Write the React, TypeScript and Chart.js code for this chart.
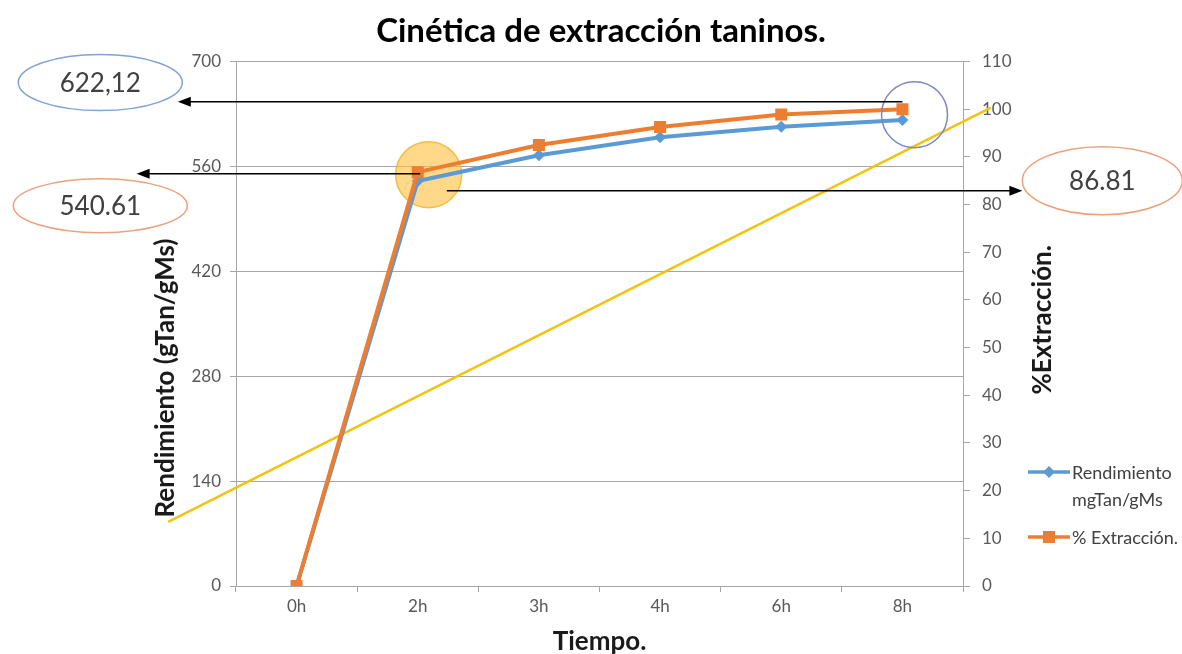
import React, { useEffect, useRef } from 'react';
import { Chart, registerables } from 'chart.js';

Chart.register(...registerables);

const categories = ['0h', '2h', '3h', '4h', '6h', '8h'];
const rendimiento = [0, 540.61, 575, 599, 613, 622.12];
const extraccion = [0, 86.81, 92.5, 96.3, 98.9, 100];
const leftAxis = { min: 0, max: 700, step: 140 };
const rightAxis = { min: 0, max: 110, step: 10 };
const seriesNames = ['Rendimiento mgTan/gMs', '% Extracción.'];
const calloutTexts = ['622,12', '540.61', '86.81'];

const FONT = 'Lato, "Open Sans", sans-serif';
const BLUE = '#5B9BD5';
const ORANGE = '#ED7D31';
const GRID = '#A6A6A6';
const TICK = '#595959';

const overlay = {
  id: 'overlay',
  beforeDatasetsDraw(chart: any) {
    const { ctx } = chart;
    const x = chart.scales.x;
    const y = chart.scales.y;
    const px = (i: number) => x.getPixelForValue(i);
    const py = (v: number) => y.getPixelForValue(v);
    ctx.save();
    // yellow straight line
    ctx.strokeStyle = '#F2C30F';
    ctx.lineWidth = 2.5;
    ctx.beginPath();
    ctx.moveTo(px(-1.06), py(85.5));
    ctx.lineTo(px(5.73), py(638.5));
    ctx.stroke();
    // orange highlight circle
    ctx.beginPath();
    ctx.arc(px(1.09), py(549), 33, 0, Math.PI * 2);
    ctx.fillStyle = 'rgba(255, 190, 60, 0.6)';
    ctx.fill();
    ctx.strokeStyle = 'rgba(245, 185, 50, 0.9)';
    ctx.lineWidth = 1.5;
    ctx.stroke();
    ctx.restore();
  },
  afterDatasetsDraw(chart: any) {
    const { ctx, chartArea } = chart;
    const x = chart.scales.x;
    const y = chart.scales.y;
    const px = (i: number) => x.getPixelForValue(i);
    const py = (v: number) => y.getPixelForValue(v);
    ctx.save();

    // blue circle
    ctx.beginPath();
    ctx.arc(px(5.1), py(629.2), 33, 0, Math.PI * 2);
    ctx.strokeStyle = '#7C86C8';
    ctx.lineWidth = 1.5;
    ctx.stroke();

    const arrow = (x1: number, x2: number, yy: number) => {
      ctx.strokeStyle = '#000';
      ctx.fillStyle = '#000';
      ctx.lineWidth = 1.5;
      const dir = x2 < x1 ? -1 : 1;
      ctx.beginPath();
      ctx.moveTo(x1, yy);
      ctx.lineTo(x2 - dir * 10, yy);
      ctx.stroke();
      ctx.beginPath();
      ctx.moveTo(x2, yy);
      ctx.lineTo(x2 - dir * 13, yy - 5);
      ctx.lineTo(x2 - dir * 13, yy + 5);
      ctx.closePath();
      ctx.fill();
    };
    arrow(px(5.0), px(-0.98), py(646.5));
    arrow(px(1.02), px(-1.32), py(550.4));
    arrow(px(1.24), px(5.99), py(527.7));

    const ellipse = (cx: number, cy: number, rx: number, ry: number, color: string, text: string) => {
      ctx.beginPath();
      ctx.ellipse(cx, cy, rx, ry, 0, 0, Math.PI * 2);
      ctx.fillStyle = '#fff';
      ctx.fill();
      ctx.strokeStyle = color;
      ctx.lineWidth = 1.5;
      ctx.stroke();
      ctx.fillStyle = '#404040';
      ctx.font = `26px ${FONT}`;
      ctx.textAlign = 'center';
      ctx.textBaseline = 'middle';
      ctx.fillText(text, cx, cy + 1);
    };
    ellipse(px(-1.62), py(672), 82, 28, '#7FA3D3', calloutTexts[0]);
    ellipse(px(-1.62), py(507.6), 87, 27, '#E9A27C', calloutTexts[1]);
    ellipse(px(6.65), py(541), 80, 34, '#E9A27C', calloutTexts[2]);

    // axis titles
    ctx.fillStyle = '#1a1a1a';
    ctx.font = `bold 26px ${FONT}`;
    ctx.textAlign = 'center';
    ctx.textBaseline = 'middle';
    ctx.save();
    ctx.translate(chartArea.left - 70, 378);
    ctx.rotate(-Math.PI / 2);
    ctx.fillText('Rendimiento (gTan/gMs)', 0, 0);
    ctx.restore();
    ctx.save();
    ctx.translate(chartArea.right + 80, (chartArea.top + chartArea.bottom) / 2 - 4);
    ctx.rotate(-Math.PI / 2);
    ctx.fillText('%Extracción.', 0, 0);
    ctx.restore();
    ctx.fillText('Tiempo.', (chartArea.left + chartArea.right) / 2, chartArea.bottom + 56);

    // legend
    const lx = chartArea.right + 65;
    const drawItem = (yy: number, color: string, style: string, lines: string[]) => {
      ctx.strokeStyle = color;
      ctx.fillStyle = color;
      ctx.lineWidth = 3.5;
      ctx.beginPath();
      ctx.moveTo(lx, yy);
      ctx.lineTo(lx + 42, yy);
      ctx.stroke();
      const cx = lx + 21;
      ctx.beginPath();
      if (style === 'diamond') {
        ctx.moveTo(cx, yy - 6);
        ctx.lineTo(cx + 6, yy);
        ctx.lineTo(cx, yy + 6);
        ctx.lineTo(cx - 6, yy);
        ctx.closePath();
      } else {
        ctx.rect(cx - 6, yy - 6, 12, 12);
      }
      ctx.fill();
      ctx.fillStyle = '#404040';
      ctx.font = `18px ${FONT}`;
      ctx.textAlign = 'left';
      ctx.textBaseline = 'middle';
      lines.forEach((t, k) => ctx.fillText(t, lx + 44, yy + 1 + k * 27));
    };
    drawItem(472, BLUE, 'diamond', ['Rendimiento', 'mgTan/gMs']);
    drawItem(537, ORANGE, 'rect', [seriesNames[1]]);

    ctx.restore();
  },
};

export default function App() {
  const ref = useRef<HTMLCanvasElement | null>(null);
  useEffect(() => {
    document.body.style.margin = '0';
    if (!ref.current) return;
    const tickFont = { family: FONT, size: 17 };
    const chart = new Chart(ref.current, {
      type: 'line',
      data: {
        labels: categories,
        datasets: [
          {
            label: seriesNames[0],
            data: rendimiento,
            yAxisID: 'y',
            borderColor: BLUE,
            backgroundColor: BLUE,
            borderWidth: 4,
            pointStyle: 'rectRot',
            pointRadius: 6,
            pointBorderWidth: 0,
            tension: 0,
            order: 1,
          },
          {
            label: seriesNames[1],
            data: extraccion,
            yAxisID: 'y1',
            borderColor: ORANGE,
            backgroundColor: ORANGE,
            borderWidth: 4,
            pointStyle: 'rect',
            pointRadius: 8.5,
            pointBorderWidth: 0,
            tension: 0,
            order: 0,
          },
        ],
      },
      options: {
        animation: false,
        responsive: false,
        layout: { padding: { left: 20, right: 0, top: 0, bottom: 0 } },
        plugins: {
          legend: { display: false },
          tooltip: { enabled: false },
          title: {
            display: true,
            text: 'Cinética de extracción taninos.',
            color: '#000',
            font: { family: FONT, size: 33, weight: 'bold' },
            padding: { top: 12, bottom: 10 },
          },
        },
        scales: {
          x: {
            type: 'category',
            offset: true,
            grid: { offset: true, drawOnChartArea: false, drawTicks: true, tickLength: 6, color: GRID },
            border: { color: GRID },
            ticks: { font: tickFont, color: TICK, padding: 4 },
            afterFit(s: any) {
              s.height = 68;
            },
          },
          y: {
            position: 'left',
            min: leftAxis.min,
            max: leftAxis.max,
            ticks: { stepSize: leftAxis.step, font: tickFont, color: TICK, padding: 9 },
            grid: { color: GRID, tickLength: 6 },
            border: { color: GRID },
            afterFit(s: any) {
              s.width = 216;
            },
          },
          y1: {
            position: 'right',
            min: rightAxis.min,
            max: rightAxis.max,
            ticks: { stepSize: rightAxis.step, font: tickFont, color: TICK, padding: 12 },
            grid: { drawOnChartArea: false, color: GRID, tickLength: 7 },
            border: { color: GRID },
            afterFit(s: any) {
              s.width = 219;
            },
          },
        },
      },
      plugins: [overlay],
    } as any);
    return () => chart.destroy();
  }, []);
  return (
    <div style={{ position: 'absolute', left: 0, top: 0, width: 1182, height: 654, background: '#fff' }}>
      <canvas ref={ref} width={1182} height={654} />
    </div>
  );
}
